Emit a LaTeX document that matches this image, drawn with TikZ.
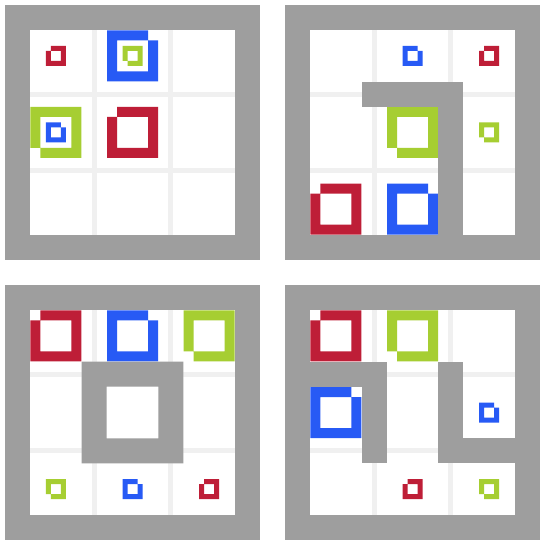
\documentclass[tikz,border=0pt]{standalone}
\definecolor{wallc}{RGB}{158,158,158}
\definecolor{gridc}{RGB}{240,240,240}
\definecolor{redc}{RGB}{190,30,55}
\definecolor{bluec}{RGB}{39,90,245}
\definecolor{greenc}{RGB}{166,206,50}
\tikzset{
  pics/nsq/.style n args={3}{code={
    \fill[#3, even odd rule] (-#1+#2,-#1) -- (#1,-#1) -- (#1,#1) -- (-#1,#1) -- (-#1,-#1+#2) -- (-#1+#2,-#1+#2) -- cycle
      (-#1+#2,-#1+#2) rectangle (#1-#2,#1-#2);
  }},
  wall/.style={fill=wallc},
  gridline/.style={fill=gridc},
}
\newcommand\Rb[2]{\pic at (#1,#2) {nsq={25.5}{10}{redc}};}
\newcommand\Bb[2]{\pic[xscale=-1] at (#1,#2) {nsq={25.5}{10}{bluec}};}
\newcommand\Gb[2]{\pic[yscale=-1] at (#1,#2) {nsq={25.5}{10}{greenc}};}
\newcommand\Rs[2]{\pic at (#1,#2) {nsq={10}{5}{redc}};}
\newcommand\Bs[2]{\pic[xscale=-1] at (#1,#2) {nsq={10}{5}{bluec}};}
\newcommand\Gs[2]{\pic[yscale=-1] at (#1,#2) {nsq={10}{5}{greenc}};}
\newcommand\panelbase{%
  \fill[wall] (0,0) rectangle (255,255);
  \fill[white] (25,25) rectangle (230,230);
  \fill[gridline] (86.67,25) rectangle (91.67,230);
  \fill[gridline] (163.33,25) rectangle (168.33,230);
  \fill[gridline] (25,86.67) rectangle (230,91.67);
  \fill[gridline] (25,163.33) rectangle (230,168.33);
}
\def\cA{50.83}
\def\cB{127.5}
\def\cC{204.17}
\begin{document}
\begin{tikzpicture}[x=1pt,y=-1pt]
\useasboundingbox (0,0) rectangle (545,545);
\fill[white] (0,0) rectangle (545,545);
% panel 1
\begin{scope}[shift={(5,5)}]
  \panelbase
  \Rs{\cA}{\cA}
  \Bb{\cB}{\cA}
  \Gs{\cB}{\cA}
  \Gb{\cA}{\cB}
  \Bs{\cA}{\cB}
  \Rb{\cB}{\cB}
\end{scope}
% panel 2
\begin{scope}[shift={(285,5)}]
  \panelbase
  \Bs{\cB}{\cA}
  \Rs{\cC}{\cA}
  \Gb{\cB}{\cB}
  \Gs{\cC}{\cB}
  \Rb{\cA}{\cC}
  \Bb{\cB}{\cC}
  \fill[wall] (76.67,76.67) rectangle (178.33,101.67);
  \fill[wall] (153.33,76.67) rectangle (178.33,230);
\end{scope}
% panel 3
\begin{scope}[shift={(5,285)}]
  \panelbase
  \Rb{\cA}{\cA}
  \Bb{\cB}{\cA}
  \Gb{\cC}{\cA}
  \Gs{\cA}{\cC}
  \Bs{\cB}{\cC}
  \Rs{\cC}{\cC}
  \fill[wall, even odd rule] (76.67,76.67) rectangle (178.33,178.33) (101.67,101.67) rectangle (153.33,153.33);
\end{scope}
% panel 4
\begin{scope}[shift={(285,285)}]
  \panelbase
  \Rb{\cA}{\cA}
  \Gb{\cB}{\cA}
  \Bb{\cA}{\cB}
  \Bs{\cC}{\cB}
  \Rs{\cB}{\cC}
  \Gs{\cC}{\cC}
  \fill[wall] (25,76.67) rectangle (101.67,101.67);
  \fill[wall] (76.67,76.67) rectangle (101.67,178.33);
  \fill[wall] (153.33,76.67) rectangle (178.33,178.33);
  \fill[wall] (153.33,153.33) rectangle (230,178.33);
\end{scope}
\end{tikzpicture}
\end{document}
